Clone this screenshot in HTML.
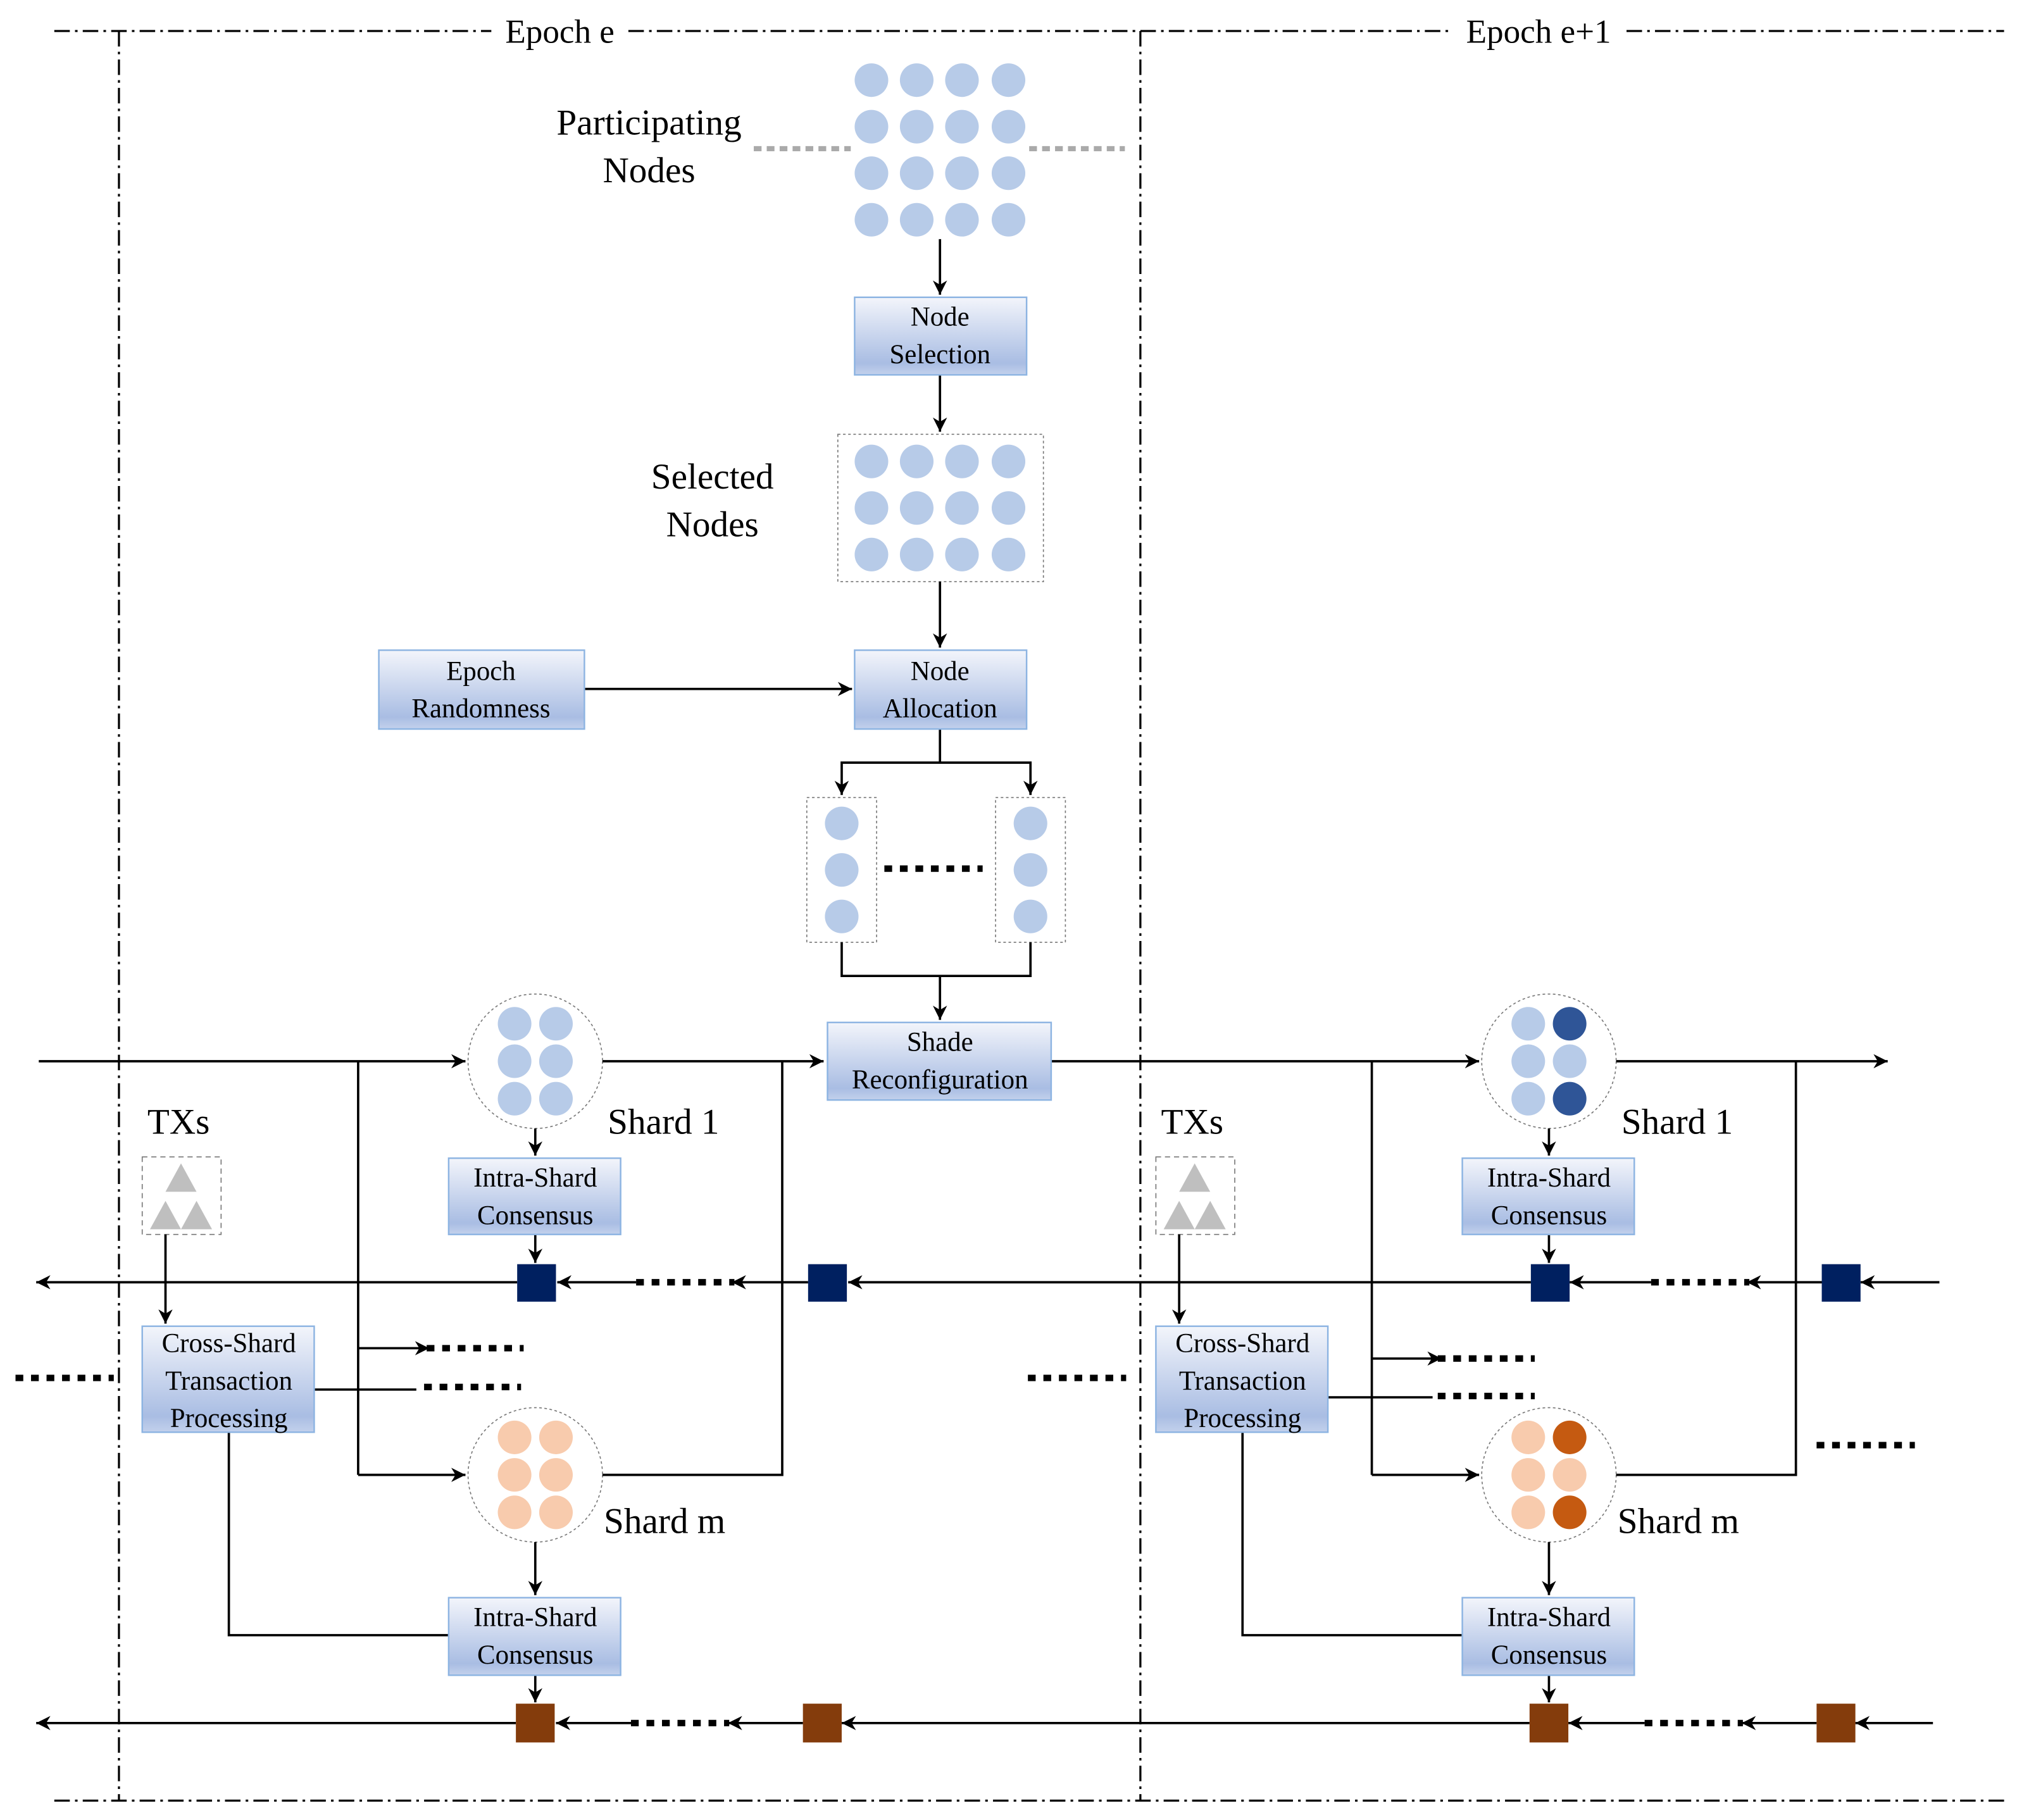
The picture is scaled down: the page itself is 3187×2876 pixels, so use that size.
<!DOCTYPE html>
<html><head><meta charset="utf-8"><style>
html,body{margin:0;padding:0;background:#fff;}
svg{display:block;}
text{font-family:"Liberation Serif",serif;fill:#000;}
</style></head><body>
<svg width="3187" height="2876" viewBox="0 0 1560 1408" preserveAspectRatio="none" xmlns="http://www.w3.org/2000/svg">
<defs>
<linearGradient id="g" x1="0" y1="0" x2="0" y2="1">
<stop offset="0" stop-color="#f3f5fb"/><stop offset="0.85" stop-color="#a9bde3"/><stop offset="1" stop-color="#c3d1ec"/>
</linearGradient>
<marker id="a" viewBox="0 0 10 10" refX="10" refY="5" markerWidth="11" markerHeight="11" markerUnits="userSpaceOnUse" orient="auto">
<path d="M0,0 L10,5 L0,10 L3,5 z" fill="#000"/></marker>
</defs>
<g stroke="#000" stroke-width="1.6" stroke-dasharray="12,4,2,4" fill="none">
<line x1="42" y1="24" x2="380" y2="24"/><line x1="486" y1="24" x2="1123" y2="24"/><line x1="1258" y1="24" x2="1550" y2="24"/>
<line x1="42" y1="1393" x2="1550" y2="1393"/>
<line x1="92" y1="24" x2="92" y2="1393"/><line x1="882" y1="24" x2="882" y2="1393"/>
</g>
<text x="433" y="33" font-size="26" text-anchor="middle">Epoch e</text>
<text x="1190" y="33" font-size="26" text-anchor="middle">Epoch e+1</text>
<g fill="#b7cbe8">
<circle cx="674" cy="62" r="13"/><circle cx="709" cy="62" r="13"/><circle cx="744" cy="62" r="13"/><circle cx="780" cy="62" r="13"/>
<circle cx="674" cy="98" r="13"/><circle cx="709" cy="98" r="13"/><circle cx="744" cy="98" r="13"/><circle cx="780" cy="98" r="13"/>
<circle cx="674" cy="134" r="13"/><circle cx="709" cy="134" r="13"/><circle cx="744" cy="134" r="13"/><circle cx="780" cy="134" r="13"/>
<circle cx="674" cy="170" r="13"/><circle cx="709" cy="170" r="13"/><circle cx="744" cy="170" r="13"/><circle cx="780" cy="170" r="13"/>
<circle cx="674" cy="357" r="13"/><circle cx="709" cy="357" r="13"/><circle cx="744" cy="357" r="13"/><circle cx="780" cy="357" r="13"/>
<circle cx="674" cy="393" r="13"/><circle cx="709" cy="393" r="13"/><circle cx="744" cy="393" r="13"/><circle cx="780" cy="393" r="13"/>
<circle cx="674" cy="429" r="13"/><circle cx="709" cy="429" r="13"/><circle cx="744" cy="429" r="13"/><circle cx="780" cy="429" r="13"/>
<circle cx="651" cy="637" r="13"/><circle cx="651" cy="673" r="13"/><circle cx="651" cy="709" r="13"/>
<circle cx="797" cy="637" r="13"/><circle cx="797" cy="673" r="13"/><circle cx="797" cy="709" r="13"/>
<circle cx="398" cy="792" r="13"/><circle cx="430" cy="792" r="13"/><circle cx="398" cy="821" r="13"/><circle cx="430" cy="821" r="13"/><circle cx="398" cy="850" r="13"/><circle cx="430" cy="850" r="13"/>
<circle cx="1182" cy="792" r="13"/><circle cx="1182" cy="821" r="13"/><circle cx="1214" cy="821" r="13"/><circle cx="1182" cy="850" r="13"/>
</g>
<circle cx="1214" cy="792" r="13" fill="#2f5597"/><circle cx="1214" cy="850" r="13" fill="#2f5597"/>
<g fill="#f8cbad">
<circle cx="398" cy="1112" r="13"/><circle cx="430" cy="1112" r="13"/><circle cx="398" cy="1141" r="13"/><circle cx="430" cy="1141" r="13"/><circle cx="398" cy="1170" r="13"/><circle cx="430" cy="1170" r="13"/>
<circle cx="1182" cy="1112" r="13"/><circle cx="1182" cy="1141" r="13"/><circle cx="1214" cy="1141" r="13"/><circle cx="1182" cy="1170" r="13"/>
</g>
<circle cx="1214" cy="1112" r="13" fill="#c55a11"/><circle cx="1214" cy="1170" r="13" fill="#c55a11"/>
<g fill="none" stroke="#777" stroke-width="0.8" stroke-dasharray="2,2">
<rect x="648" y="336" width="159" height="114"/>
<rect x="624" y="617" width="54" height="112"/><rect x="770" y="617" width="54" height="112"/>
<circle cx="414" cy="821" r="52"/><circle cx="414" cy="1141" r="52"/>
<circle cx="1198" cy="821" r="52"/><circle cx="1198" cy="1141" r="52"/>
<rect x="110" y="895" width="61" height="60" stroke-dasharray="4,3"/><rect x="894" y="895" width="61" height="60" stroke-dasharray="4,3"/>
</g>
<g fill="#bfbfbf">
<polygon points="140,900 128,922 152,922"/><polygon points="128,929 116,951 140,951"/><polygon points="152,929 140,951 164,951"/>
<polygon points="924,900 912,922 936,922"/><polygon points="912,929 900,951 924,951"/><polygon points="936,929 924,951 948,951"/>
</g>
<g stroke="#aaa" stroke-width="4" stroke-dasharray="6,4">
<line x1="583" y1="115" x2="658" y2="115"/><line x1="796" y1="115" x2="870" y2="115"/>
</g>
<text font-size="28" text-anchor="middle"><tspan x="502" y="104">Participating</tspan><tspan x="502" y="141">Nodes</tspan></text>
<text font-size="28" text-anchor="middle"><tspan x="551" y="378">Selected</tspan><tspan x="551" y="415">Nodes</tspan></text>
<g stroke="#000" stroke-width="1.8" fill="none">
<line x1="727" y1="185" x2="727" y2="228" marker-end="url(#a)"/>
<line x1="727" y1="290" x2="727" y2="334" marker-end="url(#a)"/>
<line x1="727" y1="450" x2="727" y2="501" marker-end="url(#a)"/>
<line x1="452" y1="533" x2="659" y2="533" marker-end="url(#a)"/>
<polyline points="727,564 727,590 651,590 651,615" marker-end="url(#a)"/>
<polyline points="727,590 797,590 797,615" marker-end="url(#a)"/>
<polyline points="651,729 651,755 797,755 797,729"/>
<line x1="727" y1="755" x2="727" y2="789" marker-end="url(#a)"/>
<line x1="30" y1="821" x2="360" y2="821" marker-end="url(#a)"/>
<line x1="466" y1="821" x2="637" y2="821" marker-end="url(#a)"/>
<line x1="813" y1="821" x2="1144" y2="821" marker-end="url(#a)"/>
<line x1="1250" y1="821" x2="1460" y2="821" marker-end="url(#a)"/>
<line x1="277" y1="821" x2="277" y2="1141"/><line x1="277" y1="1141" x2="360" y2="1141" marker-end="url(#a)"/>
<line x1="277" y1="1043" x2="332" y2="1043" marker-end="url(#a)"/>
<polyline points="605,821 605,1141 466,1141"/>
<line x1="1061" y1="821" x2="1061" y2="1141"/><line x1="1061" y1="1141" x2="1144" y2="1141" marker-end="url(#a)"/>
<line x1="1061" y1="1051" x2="1115" y2="1051" marker-end="url(#a)"/>
<polyline points="1389,821 1389,1141 1250,1141"/>
<line x1="243" y1="1075" x2="322" y2="1075"/><line x1="1027" y1="1081" x2="1108" y2="1081"/>
<line x1="128" y1="955" x2="128" y2="1024" marker-end="url(#a)"/>
<line x1="912" y1="955" x2="912" y2="1024" marker-end="url(#a)"/>
<line x1="414" y1="873" x2="414" y2="894" marker-end="url(#a)"/>
<line x1="414" y1="955" x2="414" y2="977" marker-end="url(#a)"/>
<line x1="1198" y1="873" x2="1198" y2="894" marker-end="url(#a)"/>
<line x1="1198" y1="955" x2="1198" y2="977" marker-end="url(#a)"/>
<line x1="414" y1="1193" x2="414" y2="1234" marker-end="url(#a)"/>
<line x1="414" y1="1296" x2="414" y2="1317" marker-end="url(#a)"/>
<line x1="1198" y1="1193" x2="1198" y2="1234" marker-end="url(#a)"/>
<line x1="1198" y1="1296" x2="1198" y2="1317" marker-end="url(#a)"/>
<polyline points="177,1108 177,1265 347,1265"/>
<polyline points="961,1108 961,1265 1131,1265"/>
<!-- block line 1 -->
<line x1="400" y1="992" x2="28" y2="992" marker-end="url(#a)"/>
<line x1="492" y1="992" x2="431" y2="992" marker-end="url(#a)"/>
<line x1="625" y1="992" x2="566" y2="992" marker-end="url(#a)"/>
<line x1="1184" y1="992" x2="656" y2="992" marker-end="url(#a)"/>
<line x1="1277" y1="992" x2="1214" y2="992" marker-end="url(#a)"/>
<line x1="1409" y1="992" x2="1351" y2="992" marker-end="url(#a)"/>
<line x1="1500" y1="992" x2="1439" y2="992" marker-end="url(#a)"/>
<!-- block line m -->
<line x1="399" y1="1333" x2="28" y2="1333" marker-end="url(#a)"/>
<line x1="488" y1="1333" x2="430" y2="1333" marker-end="url(#a)"/>
<line x1="621" y1="1333" x2="563" y2="1333" marker-end="url(#a)"/>
<line x1="1183" y1="1333" x2="651" y2="1333" marker-end="url(#a)"/>
<line x1="1272" y1="1333" x2="1213" y2="1333" marker-end="url(#a)"/>
<line x1="1405" y1="1333" x2="1347" y2="1333" marker-end="url(#a)"/>
<line x1="1495" y1="1333" x2="1435" y2="1333" marker-end="url(#a)"/>
</g>
<g stroke="#000" stroke-width="5" stroke-dasharray="6,6">
<line x1="684" y1="672" x2="760" y2="672"/>
<line x1="12" y1="1066" x2="88" y2="1066"/><line x1="795" y1="1066" x2="871" y2="1066"/>
<line x1="330" y1="1043" x2="405" y2="1043"/><line x1="328" y1="1073" x2="403" y2="1073"/>
<line x1="1112" y1="1051" x2="1187" y2="1051"/><line x1="1112" y1="1080" x2="1187" y2="1080"/>
<line x1="1405" y1="1118" x2="1481" y2="1118"/>
<line x1="492" y1="992" x2="568" y2="992"/><line x1="1277" y1="992" x2="1353" y2="992"/>
<line x1="488" y1="1333" x2="564" y2="1333"/><line x1="1272" y1="1333" x2="1348" y2="1333"/>
</g>
<g fill="#002060">
<rect x="400" y="978" width="30" height="29"/><rect x="625" y="978" width="30" height="29"/>
<rect x="1184" y="978" width="30" height="29"/><rect x="1409" y="978" width="30" height="29"/>
</g>
<g fill="#843c0c">
<rect x="399" y="1318" width="30" height="30"/><rect x="621" y="1318" width="30" height="30"/>
<rect x="1183" y="1318" width="30" height="30"/><rect x="1405" y="1318" width="30" height="30"/>
</g>
<g fill="url(#g)" stroke="#8db4e2" stroke-width="1.2">
<rect x="661" y="230" width="133" height="60"/>
<rect x="661" y="503" width="133" height="61"/>
<rect x="293" y="503" width="159" height="61"/>
<rect x="640" y="791" width="173" height="60"/>
<rect x="347" y="896" width="133" height="59"/><rect x="1131" y="896" width="133" height="59"/>
<rect x="347" y="1236" width="133" height="60"/><rect x="1131" y="1236" width="133" height="60"/>
<rect x="110" y="1026" width="133" height="82"/><rect x="894" y="1026" width="133" height="82"/>
</g>
<g font-size="21" text-anchor="middle">
<text><tspan x="727" y="252">Node</tspan><tspan x="727" y="281">Selection</tspan></text>
<text><tspan x="727" y="526">Node</tspan><tspan x="727" y="555">Allocation</tspan></text>
<text><tspan x="372" y="526">Epoch</tspan><tspan x="372" y="555">Randomness</tspan></text>
<text><tspan x="727" y="813">Shade</tspan><tspan x="727" y="842">Reconfiguration</tspan></text>
<text><tspan x="414" y="918">Intra-Shard</tspan><tspan x="414" y="947">Consensus</tspan></text>
<text><tspan x="1198" y="918">Intra-Shard</tspan><tspan x="1198" y="947">Consensus</tspan></text>
<text><tspan x="414" y="1258">Intra-Shard</tspan><tspan x="414" y="1287">Consensus</tspan></text>
<text><tspan x="1198" y="1258">Intra-Shard</tspan><tspan x="1198" y="1287">Consensus</tspan></text>
<text><tspan x="177" y="1046">Cross-Shard</tspan><tspan x="177" y="1075">Transaction</tspan><tspan x="177" y="1104">Processing</tspan></text>
<text><tspan x="961" y="1046">Cross-Shard</tspan><tspan x="961" y="1075">Transaction</tspan><tspan x="961" y="1104">Processing</tspan></text>
</g>
<g font-size="28">
<text x="114" y="877">TXs</text><text x="898" y="877">TXs</text>
<text x="470" y="877">Shard 1</text><text x="1254" y="877">Shard 1</text>
<text x="467" y="1186">Shard m</text><text x="1251" y="1186">Shard m</text>
</g>
</svg>
</body></html>
